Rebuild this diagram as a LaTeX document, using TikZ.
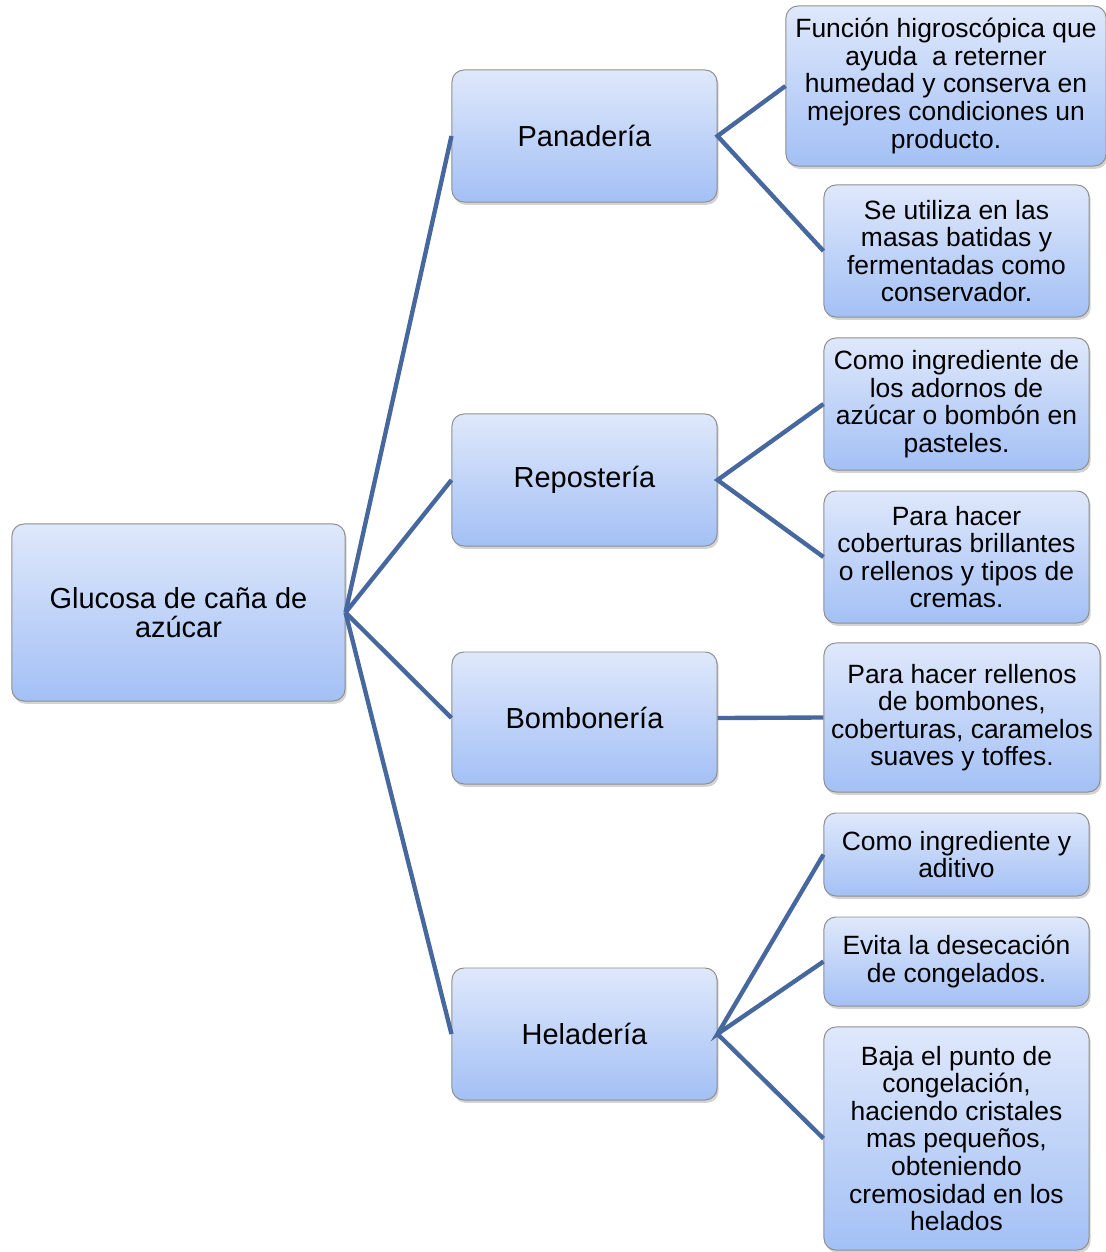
\documentclass[tikz,border=0pt]{standalone}
\usepackage{fontspec}
\setmainfont{Liberation Sans}
\usetikzlibrary{shadows}

\definecolor{boxtop}{HTML}{DFE8FB}
\definecolor{boxbot}{HTML}{A3C0F5}
\definecolor{boxline}{HTML}{8E8E8E}
\definecolor{linkblue}{HTML}{46689E}

\tikzset{
    box/.style={draw=boxline, line width=0.7pt, rounded corners=8.5pt,
        top color=boxtop, bottom color=boxbot, align=center, inner sep=0pt,
        font=\fontsize{20.6}{20.6}\selectfont,
        drop shadow={shadow xshift=1.2pt, shadow yshift=-2pt, opacity=0.35}},
    usebox/.style={box, font=\fontsize{18.8}{19.6}\selectfont},
    branch/.style={draw=linkblue, line width=3.1pt}
}

\begin{document}
\begin{tikzpicture}[x=0.025cm, y=-0.025cm]
            %\draw[lightgray] (0, 0) grid (1106, 1252);
            \useasboundingbox (0, 0) rectangle (1106, 1252);
            \node[box, minimum width=8.325cm, minimum height=4.425cm] (glucosa) at (178.5, 612.5) {Glucosa de caña de\\azúcar};
            \node[box, minimum width=6.625cm, minimum height=3.3cm] (panaderia) at (584.5, 136) {Panadería};
            \node[box, minimum width=6.625cm, minimum height=3.3cm] (reposteria) at (584.5, 480) {Repostería};
            \node[box, minimum width=6.625cm, minimum height=3.3cm] (bomboneria) at (584.5, 718) {Bombonería};
            \node[box, minimum width=6.625cm, minimum height=3.3cm] (heladeria) at (584.5, 1034) {Heladería};
            % usos
            \node[usebox, minimum width=8cm, minimum height=4cm] (pan1) at (946, 86) {Función higroscópica que\\ayuda\ \ a reterner\\humedad y conserva en\\mejores condiciones un\\producto.};
            \node[usebox, minimum width=6.625cm, minimum height=3.3cm] (pan2) at (956.5, 251) {Se utiliza en las\\masas batidas y\\fermentadas como\\conservador.};
            \node[usebox, minimum width=6.625cm, minimum height=3.3cm] (rep1) at (956.5, 404) {Como ingrediente de\\los adornos de\\azúcar o bombón en\\pasteles.};
            \node[usebox, minimum width=6.625cm, minimum height=3.3cm] (rep2) at (956.5, 557) {Para hacer\\coberturas brillantes\\o rellenos y tipos de\\cremas.};
            \node[usebox, minimum width=6.9cm, minimum height=3.725cm] (bom1) at (962, 717.5) {Para hacer rellenos\\de bombones,\\coberturas, caramelos\\suaves y toffes.};
            \node[usebox, minimum width=6.625cm, minimum height=2.075cm] (hel1) at (956.5, 854.5) {Como ingrediente y\\aditivo};
            \node[usebox, minimum width=6.625cm, minimum height=2.225cm] (hel2) at (956.5, 961.5) {Evita la desecación\\de congelados.};
            \node[usebox, minimum width=6.625cm, minimum height=5.575cm] (hel3) at (956.5, 1138.5) {Baja el punto de\\congelación,\\haciendo cristales\\mas pequeños,\\obteniendo\\cremosidad en los\\helados};
            % ramas
            \foreach \n in {panaderia, reposteria, bomboneria, heladeria}
                \draw[branch] (glucosa.east) -- (\n.west);
            \draw[branch] (pan1.west) -- (panaderia.east) -- (pan2.west);
            \draw[branch] (rep1.west) -- (reposteria.east) -- (rep2.west);
            \draw[branch] (bomboneria.east) -- (bom1.west);
            \draw[branch] (hel1.west) -- (heladeria.east) -- (hel2.west);
            \draw[branch] (heladeria.east) -- (hel3.west);
        \end{tikzpicture}
\end{document}
